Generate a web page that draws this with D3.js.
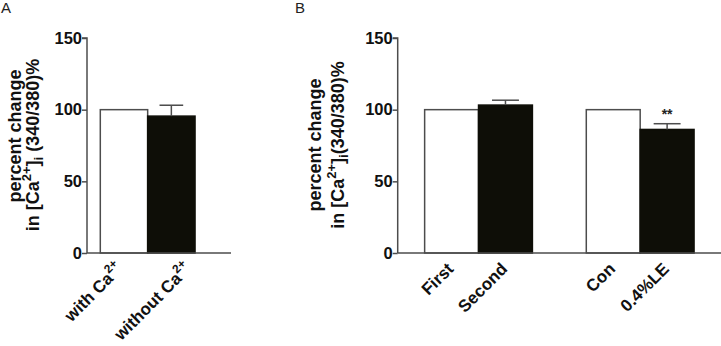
<!DOCTYPE html>
<html>
<head>
<meta charset="utf-8">
<script src="https://cdn.jsdelivr.net/npm/d3@7"></script>
<style>
  html, body { margin: 0; padding: 0; background: #fff; }
  svg text { font-family: "Liberation Sans", Arial, sans-serif; }
</style>
</head>
<body>
<svg id="chart" width="721" height="346"></svg>
<script>
// panel A
const catsA = ['with Ca', 'without Ca']
const valuesA = [100, 95.5]
const errA = [0, 7.6]
const fillA = ['white', 'black']

// panel B ('' is the empty slot between the two pairs)
const catsB = ['First', 'Second', '', 'Con', '0.4%LE']
const valuesB = [100, 103.2, null, 100, 86.2]
const errB = [0, 3.4, null, 0, 4.0]
const fillB = ['white', 'black', null, 'white', 'black']
const starsB = ['', '', '', '', '**']

const yTicks = [0, 50, 100, 150]

const axisColor = '#4d4d4d'
const black = '#0e0e07'

const svg = d3.select('#chart')
const y = d3.scaleLinear().domain([0, 150]).range([253, 38])

function drawPanel(opts) {
    const g = svg.append('g')
    const x = d3.scaleBand()
        .domain(opts.cats.map((d, i) => i))
        .range([opts.x0, opts.x1])
        .paddingInner(0)
        .paddingOuter(opts.padOuter)
        .align(opts.align)

    // bars
    opts.values.forEach((v, i) => {
        if (v == null) return
        g.append('rect')
            .attr('x', x(i))
            .attr('y', y(v))
            .attr('width', x.bandwidth())
            .attr('height', y(0) - y(v))
            .attr('fill', opts.fills[i] === 'black' ? black : '#fff')
            .attr('stroke', opts.fills[i] === 'black' ? black : axisColor)
            .attr('stroke-width', 1.5)
        const e = opts.errs[i]
        if (e) {
            const cx = x(i) + x.bandwidth() / 2
            g.append('line')
                .attr('x1', cx).attr('x2', cx)
                .attr('y1', y(v)).attr('y2', y(v + e))
                .attr('stroke', axisColor).attr('stroke-width', 1.5)
            g.append('line')
                .attr('x1', cx - x.bandwidth() / 4).attr('x2', cx + x.bandwidth() / 4)
                .attr('y1', y(v + e)).attr('y2', y(v + e))
                .attr('stroke', axisColor).attr('stroke-width', 1.5)
        }
        if (opts.stars && opts.stars[i]) {
            g.append('text')
                .attr('x', x(i) + x.bandwidth() / 2)
                .attr('y', y(v + e) - 5)
                .attr('text-anchor', 'middle')
                .attr('font-size', 14)
                .attr('font-weight', 'bold')
                .attr('fill', '#222')
                .text(opts.stars[i])
        }
    })

    // y axis
    const axisY = d3.axisLeft(y).tickValues(yTicks).tickSize(5).tickPadding(0)
    const ay = g.append('g')
        .attr('transform', `translate(${opts.x0},0)`)
        .call(axisY)
    ay.select('.domain').attr('stroke', axisColor).attr('stroke-width', 1.5)
        .attr('d', `M-5,${y(150)}H0V${y(0)}`)
    ay.selectAll('.tick line').attr('stroke', axisColor).attr('stroke-width', 1.5)
    ay.selectAll('.tick text')
        .attr('font-size', 16.5).attr('font-weight', 'bold').attr('fill', '#111')
        .attr('font-family', '"Liberation Sans", Arial, sans-serif')

    // x axis line
    g.append('line')
        .attr('x1', opts.x0).attr('x2', opts.x1)
        .attr('y1', y(0)).attr('y2', y(0))
        .attr('stroke', axisColor).attr('stroke-width', 1.5)

    // x labels, rotated
    opts.cats.forEach((c, i) => {
        if (!c) return
        const cx = x(i) + x.bandwidth() / 2 + opts.labelShift[i]
        const t = g.append('text')
            .attr('transform', `translate(${cx},${y(0) + 17}) rotate(-45)`)
            .attr('text-anchor', 'end')
            .attr('font-size', 17)
            .attr('font-weight', 'bold')
            .attr('fill', '#111')
        t.append('tspan').text(c)
        if (opts.sup) {
            t.append('tspan').attr('dy', -8).attr('font-size', 12).text('2+')
        }
    })

    // y title
    const tx = opts.x0
    g.append('text')
        .attr('transform', `translate(${tx - opts.t1dx},${opts.t1y}) rotate(-90)`)
        .attr('text-anchor', 'middle')
        .attr('font-size', 18).attr('font-weight', 'bold').attr('fill', '#111')
        .text('percent change')
    const t2 = g.append('text')
        .attr('transform', `translate(${tx - opts.t2dx},${opts.t2y}) rotate(-90)`)
        .attr('text-anchor', 'middle')
        .attr('font-size', 18).attr('font-weight', 'bold').attr('fill', '#111')
    t2.append('tspan').text('in [Ca')
    t2.append('tspan').attr('dy', -8).attr('font-size', 13).text('2+')
    t2.append('tspan').attr('dy', 8).text(']')
    t2.append('tspan').attr('dy', 4).attr('font-size', 13).text('i')
    t2.append('tspan').attr('dy', -4).text(opts.titleTail)

    // panel letter
    g.append('text')
        .attr('x', opts.letterX).attr('y', 13)
        .attr('font-size', 15).attr('fill', '#222')
        .text(opts.letter)
}

drawPanel({
    cats: catsA, values: valuesA, errs: errA, fills: fillA,
    x0: 87, x1: 231, padOuter: 0.52, align: 0.27,
    labelShift: [0, 21], sup: true,
    t1dx: 66, t2dx: 48, t1y: 136, t2y: 145, titleTail: ' (340/380)%',
    letter: 'A', letterX: 1
})

drawPanel({
    cats: catsB, values: valuesB, errs: errB, fills: fillB, stars: starsB,
    x0: 397.7, x1: 721, padOuter: 0.5, align: 0.5,
    labelShift: [3, 3, 0, 3, 3], sup: false,
    t1dx: 77, t2dx: 54, t1y: 145, t2y: 145, titleTail: '(340/380)%',
    letter: 'B', letterX: 295
})
</script>
</body>
</html>
